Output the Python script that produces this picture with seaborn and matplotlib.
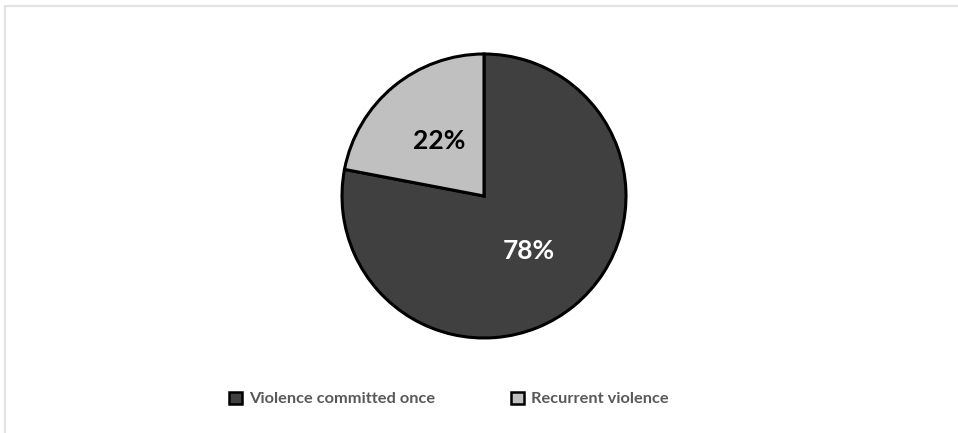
import matplotlib
matplotlib.use("Agg")
import matplotlib.pyplot as plt
from matplotlib.lines import Line2D
import seaborn as sns

categories = ["Violence committed once", "Recurrent violence"]
shares = [78, 22]
colors = ["#404040", "#c0c0c0"]
label_colors = ["white", "black"]

sns.set_theme(style="white")
plt.rcParams["font.family"] = ["Lato", "DejaVu Sans"]

W, H = 958, 433
fig = plt.figure(figsize=(W / 100, H / 100), dpi=100)
fig.patch.set_facecolor("white")

# Thin light frame along the top and left edges
fig.add_artist(Line2D([5 / W, 1], [1 - 6 / H, 1 - 6 / H], color="#e3e3e3", lw=1.6))
fig.add_artist(Line2D([5 / W, 5 / W], [0, 1 - 6 / H], color="#e3e3e3", lw=1.6))

# Square axes holding the pie (center 484,196; radius 142 px)
cx, cy, r = 484, 196, 142
ax = fig.add_axes([(cx - r) / W, (H - cy - r) / H, 2 * r / W, 2 * r / H])
wedges, texts, autotexts = ax.pie(
    shares,
    colors=colors,
    startangle=90,
    counterclock=False,
    autopct=lambda p: f"{p:.0f}%",
    pctdistance=0.5,
    wedgeprops=dict(edgecolor="black", linewidth=2.2),
    textprops=dict(fontsize=19, fontweight="bold"),
)
for t, c in zip(autotexts, label_colors):
    t.set_color(c)
ax.set_xlim(-1.0, 1.0)
ax.set_ylim(-1.0, 1.0)
ax.set_aspect("auto")
ax.axis("off")

leg = fig.legend(
    wedges,
    categories,
    loc="center left",
    bbox_to_anchor=(229 / W, 1 - 399 / H),
    ncol=2,
    frameon=False,
    fontsize=11.8,
    handlelength=0.8,
    handleheight=0.8,
    handletextpad=0.43,
    columnspacing=4.6,
    borderpad=0,
    borderaxespad=0,
)
for t in leg.get_texts():
    t.set_color("#595959")
    t.set_fontweight("bold")
for h in leg.legend_handles:
    h.set_linewidth(1.8)

fig.savefig("out.png", dpi=100, facecolor="white")
